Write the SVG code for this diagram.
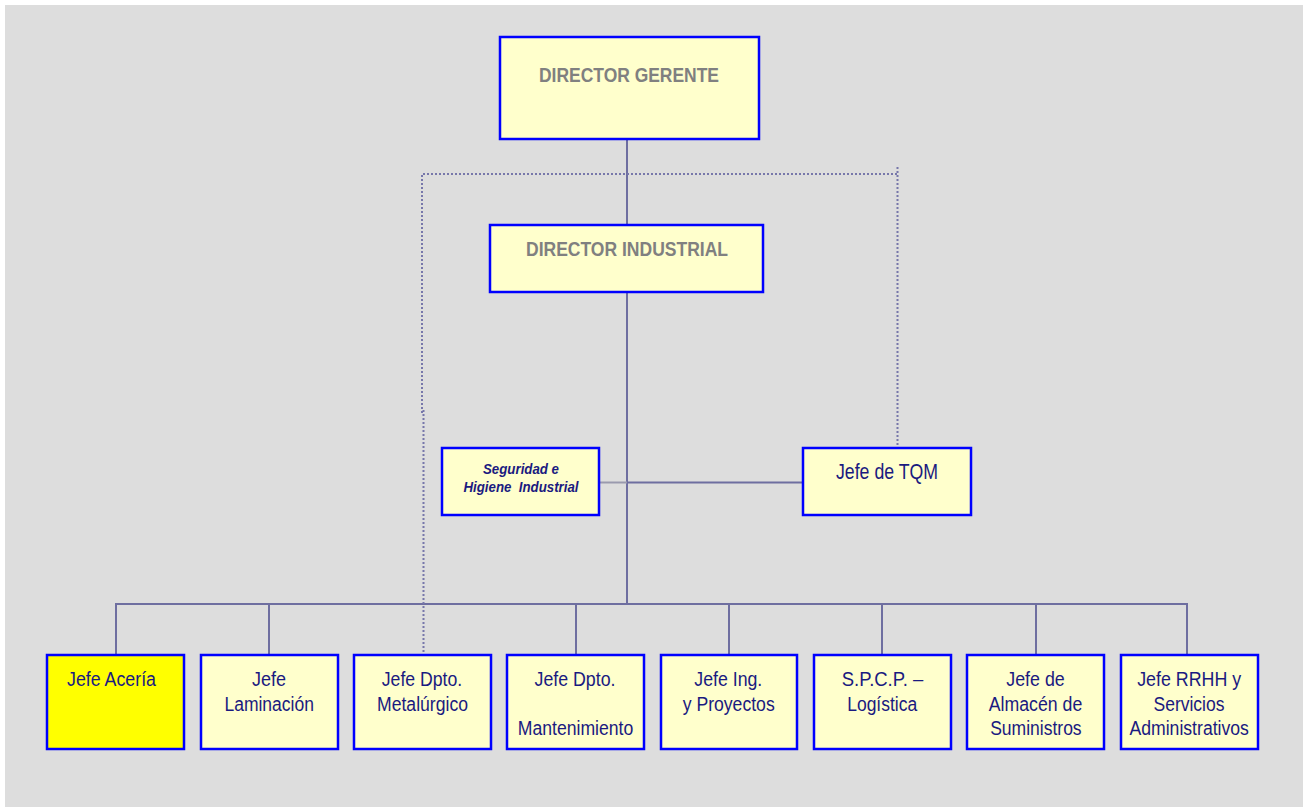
<svg xmlns="http://www.w3.org/2000/svg" width="1303" height="807" viewBox="0 0 1303 807">
<style>
.box{fill:#FFFFCC;stroke:#0000FF;stroke-width:2.5}
.yel{fill:#FFFF00;stroke:#0000FF;stroke-width:2.5}
.ttl{font-family:"Liberation Sans",Arial,sans-serif;font-weight:bold;font-size:21px;fill:#808080;text-anchor:middle}
.t{font-family:"Liberation Sans",Arial,sans-serif;font-size:19.5px;fill:#1a1a80;text-anchor:middle}
.tq{font-family:"Liberation Sans",Arial,sans-serif;font-size:22px;fill:#1a1a80;text-anchor:middle}
.si{font-family:"Liberation Sans",Arial,sans-serif;font-size:14.5px;font-weight:bold;font-style:italic;fill:#1a1a80;text-anchor:middle;white-space:pre}
.c{fill:none;stroke:#6E6EA0;stroke-width:2}
.d{fill:none;stroke:#7777AA;stroke-width:2;stroke-dasharray:2 2}
</style>
<rect x="5" y="5" width="1298" height="802" fill="#DDDDDD"/>
<g id="connectors">
<path class="c" d="M627,139V225M627,292V604"/>
<path class="c" d="M116,655V604H1187V655M269,604V655M576,604V655M729,604V655M882,604V655M1036,604V655"/>
<path fill="none" stroke="#9A9AAE" stroke-width="2" d="M599,482.5H627"/>
<path class="c" d="M627,482.5H803"/>
<path class="d" d="M422,413V174H897.5"/>
<path class="d" d="M897.5,167V448"/>
<path class="d" d="M423.5,410V655"/>
</g>
<g id="director-gerente">
<rect class="box" x="500" y="37" width="259" height="102"/>
<text class="ttl" x="629" y="82" textLength="180" lengthAdjust="spacingAndGlyphs">DIRECTOR GERENTE</text>
</g>
<g id="director-industrial">
<rect class="box" x="490" y="225" width="273" height="67"/>
<text class="ttl" x="627" y="256" textLength="202" lengthAdjust="spacingAndGlyphs">DIRECTOR INDUSTRIAL</text>
</g>
<g id="seguridad">
<rect class="box" x="442" y="448" width="157" height="67"/>
<text class="si" x="521" y="473.5" textLength="76" lengthAdjust="spacingAndGlyphs">Seguridad e</text>
<text class="si" x="521" y="491.5" textLength="115" lengthAdjust="spacingAndGlyphs">Higiene  Industrial</text>
</g>
<g id="tqm">
<rect class="box" x="803" y="448" width="168" height="67"/>
<text class="tq" x="887" y="479.3" textLength="102" lengthAdjust="spacingAndGlyphs">Jefe de TQM</text>
</g>
<g id="aceria">
<rect class="yel" x="47" y="655" width="137" height="94"/>
<text class="t" x="111.5" y="686" textLength="89" lengthAdjust="spacingAndGlyphs">Jefe Acería</text>
</g>
<g id="laminacion">
<rect class="box" x="201" y="655" width="137" height="94"/>
<text class="t" x="269" y="686" textLength="34" lengthAdjust="spacingAndGlyphs">Jefe</text>
<text class="t" x="269.2" y="710.5" textLength="89.5" lengthAdjust="spacingAndGlyphs">Laminación</text>
</g>
<g id="metalurgico">
<rect class="box" x="354" y="655" width="137" height="94"/>
<text class="t" x="422" y="686" textLength="80.5" lengthAdjust="spacingAndGlyphs">Jefe Dpto.</text>
<text class="t" x="422.5" y="710.5" textLength="91" lengthAdjust="spacingAndGlyphs">Metalúrgico</text>
</g>
<g id="mantenimiento">
<rect class="box" x="507" y="655" width="137" height="94"/>
<text class="t" x="575" y="686" textLength="81" lengthAdjust="spacingAndGlyphs">Jefe Dpto.</text>
<text class="t" x="575.5" y="735" textLength="115.5" lengthAdjust="spacingAndGlyphs">Mantenimiento</text>
</g>
<g id="ingenieria">
<rect class="box" x="661" y="655" width="136" height="94"/>
<text class="t" x="728.3" y="686" textLength="68" lengthAdjust="spacingAndGlyphs">Jefe Ing.</text>
<text class="t" x="728.7" y="710.5" textLength="92" lengthAdjust="spacingAndGlyphs">y Proyectos</text>
</g>
<g id="spcp">
<rect class="box" x="814" y="655" width="137" height="94"/>
<text class="t" x="882.5" y="686" textLength="81.5" lengthAdjust="spacingAndGlyphs">S.P.C.P. –</text>
<text class="t" x="882.2" y="710.5" textLength="70" lengthAdjust="spacingAndGlyphs">Logística</text>
</g>
<g id="almacen">
<rect class="box" x="967" y="655" width="137" height="94"/>
<text class="t" x="1035.5" y="686" textLength="58.5" lengthAdjust="spacingAndGlyphs">Jefe de</text>
<text class="t" x="1035.5" y="710.5" textLength="93.5" lengthAdjust="spacingAndGlyphs">Almacén de</text>
<text class="t" x="1035.9" y="735" textLength="91.5" lengthAdjust="spacingAndGlyphs">Suministros</text>
</g>
<g id="rrhh">
<rect class="box" x="1121" y="655" width="137" height="94"/>
<text class="t" x="1189.2" y="686" textLength="104" lengthAdjust="spacingAndGlyphs">Jefe RRHH y</text>
<text class="t" x="1189" y="710.5" textLength="71" lengthAdjust="spacingAndGlyphs">Servicios</text>
<text class="t" x="1189.2" y="735" textLength="119.5" lengthAdjust="spacingAndGlyphs">Administrativos</text>
</g>
</svg>
